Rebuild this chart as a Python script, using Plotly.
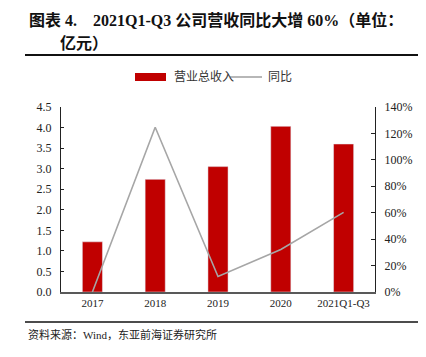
import plotly.graph_objects as go

categories = ["2017", "2018", "2019", "2020", "2021Q1-Q3"]
revenue = [1.22, 2.74, 3.05, 4.03, 3.60]
yoy = [0.0, 124.7, 11.7, 32.2, 60.3]
left_ticks = [0, 0.5, 1.0, 1.5, 2.0, 2.5, 3.0, 3.5, 4.0, 4.5]
right_ticks = [0, 20, 40, 60, 80, 100, 120, 140]

W, H = 426, 357
OFF = 8  # page body margin
L, R, T, B = 61 - OFF, 375 - OFF, 107 - OFF, 292 - OFF

def px(x):
    return (x - OFF - L) / (R - L)

def py(y):
    return (B - (y - OFF)) / (B - T)

SERIF = "Liberation Serif, Noto Sans CJK SC, serif"
RED = "#C00000"
GRAY = "#A6A6A6"

fig = go.Figure()
fig.add_trace(go.Bar(x=categories, y=revenue, name="营业总收入", marker_color=RED,
                     width=0.32, yaxis="y"))
fig.add_trace(go.Scatter(x=categories, y=yoy, name="同比", mode="lines",
                         line=dict(color=GRAY, width=1.6), yaxis="y2"))

fig.update_layout(
    width=W, height=H,
    margin=dict(l=L, r=W - R, t=T, b=H - B),
    paper_bgcolor="white", plot_bgcolor="white",
    showlegend=False,
    font=dict(family=SERIF, size=12, color="#222"),
    xaxis=dict(showline=True, linecolor="#595959", linewidth=1.5, ticks="",
               showgrid=False, tickfont=dict(size=11), fixedrange=True),
    yaxis=dict(range=[0, 4.5], tickvals=left_ticks, ticktext=[f"{v:.1f}" for v in left_ticks],
               showline=True, linecolor="#222", linewidth=1.2, ticks="inside", ticklen=3,
               tickcolor="#222", showgrid=False, zeroline=False, tickfont=dict(size=12),
               ticklabelstandoff=6),
    yaxis2=dict(range=[0, 140], tickvals=right_ticks, ticktext=[f"{v}%" for v in right_ticks],
                overlaying="y", side="right", showline=True, linecolor="#222", linewidth=1.2,
                ticks="inside", ticklen=4, tickcolor="#222", showgrid=False, zeroline=False,
                tickfont=dict(size=12), ticklabelstandoff=6),
)

def label(text, x, y, size, color="#222"):
    fig.add_annotation(text=text, x=px(x), y=py(y), xref="paper", yref="paper",
                       xanchor="left", yanchor="middle", align="left", showarrow=False,
                       font=dict(size=size, color=color, family=SERIF))

# title
label("<b>图表 4.    2021Q1-Q3 公司营收同比大增 60%（单位：</b>", 27, 20, 16, "#111")
label("<b>亿元）</b>", 58, 43, 16, "#111")
fig.add_shape(type="line", xref="paper", yref="paper", x0=px(25), x1=px(419), y0=py(55), y1=py(55),
              line=dict(color="#111", width=2))
fig.add_shape(type="line", xref="paper", yref="paper", x0=px(25), x1=px(419), y0=py(322), y1=py(322),
              line=dict(color="#111", width=1.5))
label("资料来源：Wind，东亚前海证券研究所", 26, 334, 11)

# legend
fig.add_shape(type="rect", xref="paper", yref="paper", x0=px(135), x1=px(166), y0=py(81), y1=py(73),
              fillcolor=RED, line=dict(width=0))
label("营业总收入", 172, 77, 12, "#333")
fig.add_shape(type="line", xref="paper", yref="paper", x0=px(230), x1=px(262), y0=py(77), y1=py(77),
              line=dict(color=GRAY, width=1.6))
label("同比", 266, 77, 12, "#333")

fig.write_html("out.html")
